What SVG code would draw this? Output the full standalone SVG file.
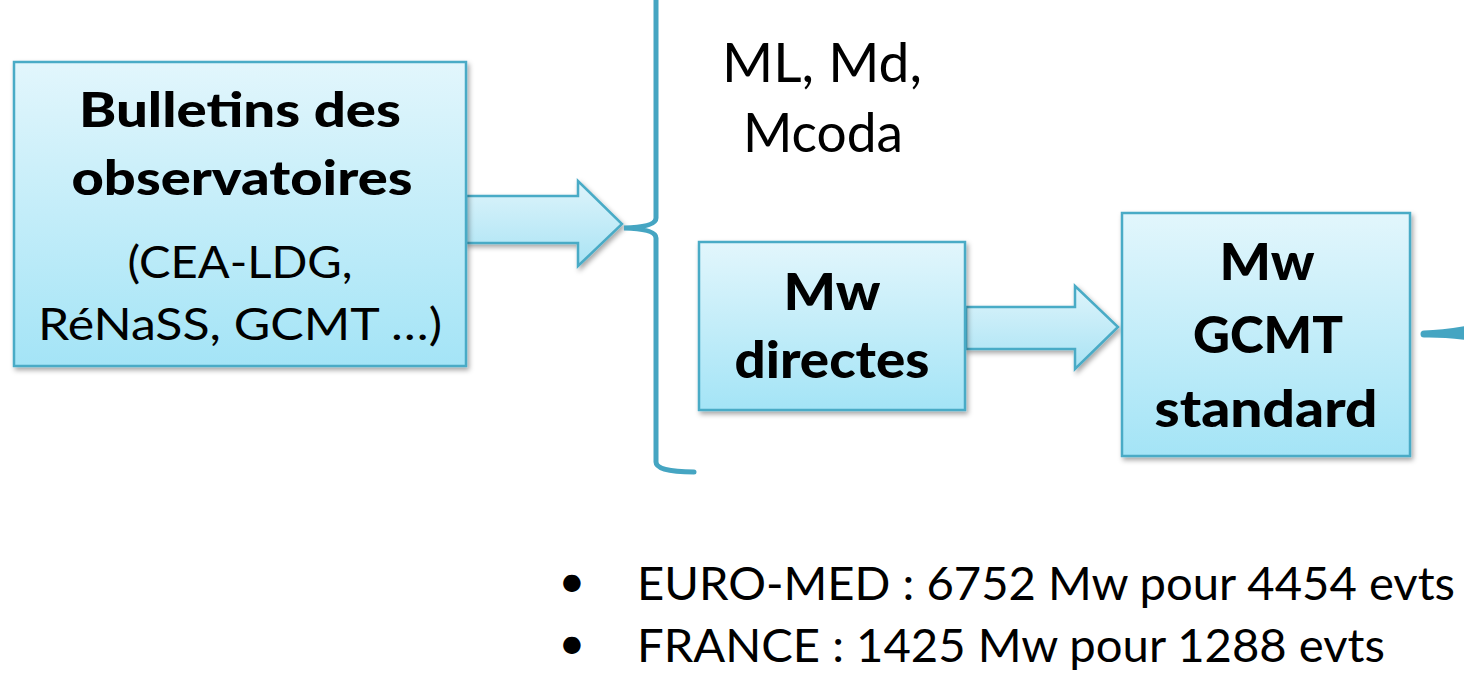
<svg xmlns="http://www.w3.org/2000/svg" width="1464" height="676" viewBox="0 0 1464 676">
<defs>
<linearGradient id="boxg" x1="0" y1="0" x2="0" y2="1">
<stop offset="0" stop-color="#e2f6fc"/>
<stop offset="1" stop-color="#a4e4f6"/>
</linearGradient>
<linearGradient id="arrg" x1="0" y1="0" x2="0" y2="1">
<stop offset="0" stop-color="#def4fb"/>
<stop offset="1" stop-color="#a9e3f4"/>
</linearGradient>
<filter id="sh" x="-10%" y="-10%" width="130%" height="130%">
<feDropShadow dx="2" dy="3" stdDeviation="2.5" flood-color="#000" flood-opacity="0.35"/>
</filter>
</defs>
<style>
.box{fill:url(#boxg);stroke:#4aabc6;stroke-width:2.5;filter:url(#sh)}
.arr{fill:url(#arrg);stroke:#4aabc6;stroke-width:2.5;stroke-linejoin:miter;filter:url(#sh)}
.brace{fill:none;stroke:#45a5c2;stroke-width:5;stroke-linecap:round}
text{font-family:Lato,"Liberation Sans",sans-serif;fill:#000;text-anchor:middle}
.b1{font-weight:900;font-size:47px}
.r1{font-size:45px}
.b2{font-weight:900;font-size:52px}
.m{font-size:54px}
.r{font-size:47px}
.l{text-anchor:start}
</style>
<rect width="1464" height="676" fill="#fff"/>
<g id="connectors">
<path class="arr" d="M466,196 L578,196 L578,181 L622,224 L578,266 L578,243 L466,243 Z"/>
<path class="arr" d="M966,307 L1075,307 L1075,286 L1118,327 L1075,369 L1075,349 L966,349 Z"/>
<path class="brace" d="M656,-5 L656,218 Q656,227 624,228 Q656,229 656,238 L656,462 Q656,472 694,472"/>
<path d="M1424,330.5 Q1442,330 1466,326 L1466,340 Q1442,337 1424,337.5 A3.5,3.5 0 0 1 1424,330.5 Z" fill="#45a5c2"/>
</g>
<g id="bulletins">
<rect class="box" x="14" y="62" width="452" height="304"/>
<text class="b1" x="240" y="127" textLength="322" lengthAdjust="spacingAndGlyphs">Bulletins des</text>
<text class="b1" x="242" y="195" textLength="341" lengthAdjust="spacingAndGlyphs">observatoires</text>
<text class="r1" x="240" y="278" textLength="225" lengthAdjust="spacingAndGlyphs">(CEA-LDG,</text>
<text class="r1" x="240" y="340" textLength="404" lengthAdjust="spacingAndGlyphs">RéNaSS, GCMT …)</text>
</g>
<g id="magnitudes">
<text class="m" x="822" y="82" textLength="200" lengthAdjust="spacingAndGlyphs">ML, Md,</text>
<text class="m" x="823" y="152" textLength="160" lengthAdjust="spacingAndGlyphs">Mcoda</text>
</g>
<g id="mw-directes">
<rect class="box" x="699" y="242" width="266" height="168"/>
<text class="b2" x="832" y="310" textLength="97" lengthAdjust="spacingAndGlyphs">Mw</text>
<text class="b2" x="832" y="378" textLength="195" lengthAdjust="spacingAndGlyphs">directes</text>
</g>
<g id="mw-gcmt">
<rect class="box" x="1122" y="213" width="288" height="243"/>
<text class="b2" x="1267" y="280" textLength="95" lengthAdjust="spacingAndGlyphs">Mw</text>
<text class="b2" x="1268" y="353" textLength="150" lengthAdjust="spacingAndGlyphs">GCMT</text>
<text class="b2" x="1266" y="427" textLength="223" lengthAdjust="spacingAndGlyphs">standard</text>
</g>
<g id="stats">
<text class="r" x="572" y="597">•</text>
<text class="r l" x="637" y="600" textLength="818" lengthAdjust="spacingAndGlyphs">EURO-MED : 6752 Mw pour 4454 evts</text>
<text class="r" x="572" y="659">•</text>
<text class="r l" x="637" y="662" textLength="748" lengthAdjust="spacingAndGlyphs">FRANCE : 1425 Mw pour 1288 evts</text>
</g>
</svg>
